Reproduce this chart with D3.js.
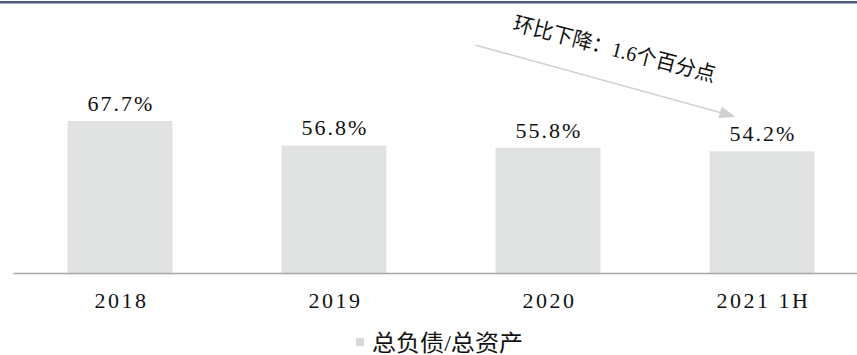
<!DOCTYPE html>
<html>
<head>
<meta charset="utf-8">
<script src="https://cdn.jsdelivr.net/npm/d3@7"></script>
<style>
  body { margin: 0; background: #fff; }
  svg { display: block; }
</style>
</head>
<body>
<div id="chart"></div>
<script>
var categories = ["2018", "2019", "2020", "2021 1H"];
var values = [67.7, 56.8, 55.8, 54.2];
var seriesName = "总负债/总资产";
var note = "环比下降：1.6个百分点";

function init(){
    var w = 857;
    var h = 355;
    var serif = "'Liberation Serif', 'Noto Sans CJK SC', serif";

    var svg = d3.select("#chart")
                .append("svg")
                .attr("width", w)
                .attr("height", h);

    // top border
    svg.append("rect")
        .attr("x", 0).attr("y", 1)
        .attr("width", w).attr("height", 2.5)
        .attr("fill", "#4b5b7b");

    var xScale = d3.scaleBand()
                    .domain(categories)
                    .range([13, 869])
                    .paddingInner(0.51)
                    .paddingOuter(0.255);

    var yScale = d3.scaleLinear()
                    .domain([0, 100])
                    .range([273, 48.5]);

    svg.selectAll("rect.bar")
        .data(values)
        .enter()
        .append("rect")
        .attr("class", "bar")
        .attr("x", function(d, i){ return xScale(categories[i]); })
        .attr("y", function(d){ return yScale(d); })
        .attr("width", xScale.bandwidth())
        .attr("height", function(d){ return yScale(0) - yScale(d); })
        .attr("fill", "#e1e2e2");

    // value labels
    svg.selectAll("text.val")
        .data(values)
        .enter()
        .append("text")
        .attr("class", "val")
        .attr("x", function(d, i){ return xScale(categories[i]) + xScale.bandwidth() / 2 + 1; })
        .attr("y", function(d){ return yScale(d) - 10; })
        .attr("text-anchor", "middle")
        .style("font-family", serif)
        .style("font-size", "22px")
        .style("letter-spacing", "2px")
        .attr("fill", "#111")
        .text(function(d){ return d.toFixed(1) + "%"; });

    // x axis
    var xAxis = d3.axisBottom(xScale).tickSize(0).tickPadding(0);
    var gx = svg.append("g")
        .attr("transform", "translate(0," + yScale(0) + ")")
        .call(xAxis);
    gx.select(".domain")
        .attr("stroke", "#a6a6a6")
        .attr("stroke-width", 1.5);
    gx.selectAll(".tick text")
        .attr("dy", 0)
        .attr("y", 35)
        .attr("dx", 1.5)
        .style("font-family", serif)
        .style("font-size", "22px")
        .style("letter-spacing", "2.5px")
        .attr("fill", "#111");

    // annotation arrow
    svg.append("line")
        .attr("x1", 475).attr("y1", 45)
        .attr("x2", 722).attr("y2", 113)
        .attr("stroke", "#d0d0d0")
        .attr("stroke-width", 1.5);
    svg.append("path")
        .attr("d", "M0,-6 L16,0 L0,6 Z")
        .attr("fill", "#d0d0d0")
        .attr("transform", "translate(720,112.5) rotate(15.4)");

    svg.append("text")
        .attr("transform", "translate(512,30) rotate(14.5)")
        .attr("textLength", 208)
        .attr("lengthAdjust", "spacingAndGlyphs")
        .style("font-family", serif)
        .style("font-size", "21px")
        .attr("fill", "#111")
        .text(note);

    // legend
    var legend = svg.append("g");
    legend.append("rect")
        .attr("x", 356).attr("y", 338)
        .attr("width", 8).attr("height", 8)
        .attr("fill", "#d9d9d9");
    legend.append("text")
        .attr("x", 372).attr("y", 351)
        .attr("textLength", 151)
        .attr("lengthAdjust", "spacingAndGlyphs")
        .style("font-family", serif)
        .style("font-size", "23px")
        .attr("fill", "#111")
        .text(seriesName);
}
window.onload = init;
</script>
</body>
</html>
